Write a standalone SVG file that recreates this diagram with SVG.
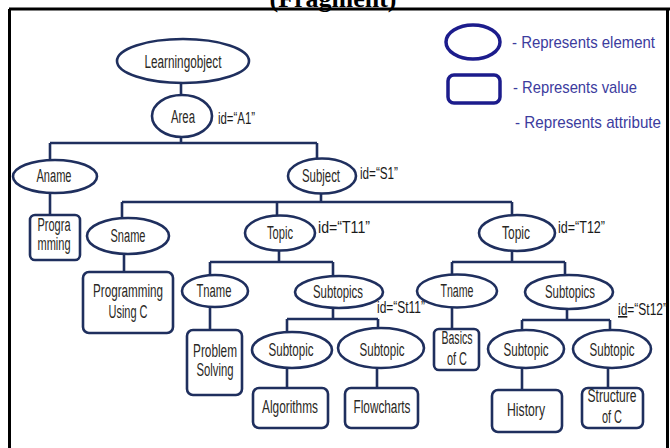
<svg xmlns="http://www.w3.org/2000/svg" width="670" height="448" viewBox="0 0 670 448">
<style>
.el{fill:#fff;stroke:#1f2f5e;stroke-width:2.6}
.bx{fill:#fff;stroke:#1f2f5e;stroke-width:2.6}
.t{font-family:"Liberation Sans",Arial,sans-serif;font-size:18px;fill:#2a2824;text-anchor:middle}
.id{font-family:"Liberation Sans",Arial,sans-serif;font-size:16px;fill:#1a1a1a}
.lg{font-family:"Liberation Sans",Arial,sans-serif;font-size:17px;fill:#3c3c9e}
.cn{fill:none;stroke:#1f2f5e;stroke-width:2.6}
.lgs{fill:#fff;stroke:#1c1c8c;stroke-width:3.5}
</style>
<rect width="670" height="448" fill="#fff"/>
<text x="333" y="7" font-family="Liberation Serif,serif" font-weight="bold" font-size="26" text-anchor="middle" fill="#000">(Fragment)</text>
<path d="M9 9H670M9.5 9V448M667.5 9V448" fill="none" stroke="#000" stroke-width="3"/>
<g id="legend">
<ellipse class="lgs" cx="473" cy="42" rx="27" ry="17"/>
<rect class="lgs" x="448" y="75" width="52" height="28" rx="6"/>
<text class="lg" x="512" y="48" textLength="143" lengthAdjust="spacingAndGlyphs">- Represents element</text>
<text class="lg" x="513" y="93" textLength="124" lengthAdjust="spacingAndGlyphs">- Represents value</text>
<text class="lg" x="515" y="128" textLength="146" lengthAdjust="spacingAndGlyphs">- Represents attribute</text>
</g>
<g id="connectors" class="cn">
<path d="M181 83V95"/>
<path d="M181 137V143M50 143H317M50 143V160M317 143V158"/>
<path d="M50 193V215"/>
<path d="M321 193V202M122 202H512M122 202V218M277 202V215M512 202V215"/>
<path d="M124 254V272"/>
<path d="M279 250V262M210 262H333M210 262V275M333 262V277"/>
<path d="M210 307V330"/>
<path d="M333 308V319M287 319H378M287 319V332M378 319V328"/>
<path d="M287 368V388M377 368V388"/>
<path d="M512 251V262M452 262H565M452 262V275M565 262V275"/>
<path d="M452 308V329"/>
<path d="M567 309V320M522 320H610M522 320V330M610 320V330"/>
<path d="M522 368V390M608 368V388"/>
</g>
<g id="learningobject"><ellipse class="el" cx="183" cy="61" rx="66" ry="22"/><text class="t" x="183" y="68" textLength="77" lengthAdjust="spacingAndGlyphs">Learningobject</text></g>
<g id="area"><ellipse class="el" cx="182" cy="116" rx="30" ry="21"/><text class="t" x="183" y="123" textLength="24" lengthAdjust="spacingAndGlyphs">Area</text><text class="id" x="218" y="124" textLength="37" lengthAdjust="spacingAndGlyphs">id=“A1”</text></g>
<g id="aname"><ellipse class="el" cx="55" cy="176.5" rx="42" ry="16.5"/><text class="t" x="54" y="182" textLength="35" lengthAdjust="spacingAndGlyphs">Aname</text></g>
<g id="aname-value"><rect class="bx" x="30" y="215" width="50" height="45" rx="5"/><text class="t" x="54" y="231" textLength="33" lengthAdjust="spacingAndGlyphs">Progra</text><text class="t" x="54" y="250" textLength="33" lengthAdjust="spacingAndGlyphs">mming</text></g>
<g id="subject"><ellipse class="el" cx="322" cy="176" rx="34" ry="17.5"/><text class="t" x="321" y="182" textLength="38" lengthAdjust="spacingAndGlyphs">Subject</text><text class="id" x="360" y="179" textLength="38" lengthAdjust="spacingAndGlyphs">id=“S1”</text></g>
<g id="sname"><ellipse class="el" cx="128" cy="236" rx="41" ry="18"/><text class="t" x="128" y="242" textLength="35" lengthAdjust="spacingAndGlyphs">Sname</text></g>
<g id="sname-value"><rect class="bx" x="83" y="272" width="90" height="61" rx="6"/><text class="t" x="128" y="297" textLength="70" lengthAdjust="spacingAndGlyphs">Programming</text><text class="t" x="128" y="318" textLength="39" lengthAdjust="spacingAndGlyphs">Using C</text></g>
<g id="topic-t11"><ellipse class="el" cx="280" cy="233" rx="35" ry="17.5"/><text class="t" x="280" y="239" textLength="26" lengthAdjust="spacingAndGlyphs">Topic</text><text class="id" x="318" y="233" textLength="52" lengthAdjust="spacingAndGlyphs">id=“T11”</text></g>
<g id="topic-t12"><ellipse class="el" cx="517" cy="233" rx="38" ry="18"/><text class="t" x="516" y="239" textLength="28" lengthAdjust="spacingAndGlyphs">Topic</text><text class="id" x="558" y="233" textLength="47" lengthAdjust="spacingAndGlyphs">id=“T12”</text></g>
<g id="tname-t11"><ellipse class="el" cx="215" cy="291" rx="33" ry="16"/><text class="t" x="214" y="297" textLength="35" lengthAdjust="spacingAndGlyphs">Tname</text></g>
<g id="subtopics-st11"><ellipse class="el" cx="339" cy="292" rx="44" ry="16"/><text class="t" x="338" y="298" textLength="50" lengthAdjust="spacingAndGlyphs">Subtopics</text><text class="id" x="377" y="313" textLength="48" lengthAdjust="spacingAndGlyphs">id=“St11”</text></g>
<g id="tname-t11-value"><rect class="bx" x="187" y="330" width="55" height="65" rx="6"/><text class="t" x="215" y="357" textLength="44" lengthAdjust="spacingAndGlyphs">Problem</text><text class="t" x="215" y="376" textLength="37" lengthAdjust="spacingAndGlyphs">Solving</text></g>
<g id="subtopic-algorithms"><ellipse class="el" cx="292" cy="350" rx="40" ry="18"/><text class="t" x="291" y="356" textLength="45" lengthAdjust="spacingAndGlyphs">Subtopic</text></g>
<g id="subtopic-flowcharts"><ellipse class="el" cx="381" cy="348" rx="43" ry="20"/><text class="t" x="382" y="356" textLength="45" lengthAdjust="spacingAndGlyphs">Subtopic</text></g>
<g id="algorithms"><rect class="bx" x="253" y="388" width="75" height="40" rx="6"/><text class="t" x="290" y="413" textLength="56" lengthAdjust="spacingAndGlyphs">Algorithms</text></g>
<g id="flowcharts"><rect class="bx" x="345" y="388" width="73" height="40" rx="6"/><text class="t" x="382" y="413" textLength="57" lengthAdjust="spacingAndGlyphs">Flowcharts</text></g>
<g id="tname-t12"><ellipse class="el" cx="457" cy="291" rx="40" ry="16.5"/><text class="t" x="457" y="297" textLength="33" lengthAdjust="spacingAndGlyphs">Tname</text></g>
<g id="subtopics-st12"><ellipse class="el" cx="569" cy="292" rx="44" ry="17"/><text class="t" x="570" y="298" textLength="50" lengthAdjust="spacingAndGlyphs">Subtopics</text><text class="id" x="618" y="315" textLength="49" lengthAdjust="spacingAndGlyphs"><tspan text-decoration="underline">id</tspan>=“St12”</text></g>
<g id="tname-t12-value"><rect class="bx" x="434" y="329" width="45" height="41" rx="5"/><text class="t" x="457" y="344" textLength="31" lengthAdjust="spacingAndGlyphs">Basics</text><text class="t" x="457" y="365" textLength="20" lengthAdjust="spacingAndGlyphs">of C</text></g>
<g id="subtopic-history"><ellipse class="el" cx="526" cy="349" rx="38" ry="19"/><text class="t" x="526" y="356" textLength="45" lengthAdjust="spacingAndGlyphs">Subtopic</text></g>
<g id="subtopic-structure"><ellipse class="el" cx="612" cy="349" rx="39" ry="19"/><text class="t" x="612" y="356" textLength="45" lengthAdjust="spacingAndGlyphs">Subtopic</text></g>
<g id="history"><rect class="bx" x="492" y="390" width="70" height="42" rx="6"/><text class="t" x="526" y="416" textLength="38" lengthAdjust="spacingAndGlyphs">History</text></g>
<g id="structure"><rect class="bx" x="582" y="388" width="61" height="40" rx="6"/><text class="t" x="612" y="402" textLength="49" lengthAdjust="spacingAndGlyphs">Structure</text><text class="t" x="612" y="423" textLength="20" lengthAdjust="spacingAndGlyphs">of C</text></g>
</svg>
